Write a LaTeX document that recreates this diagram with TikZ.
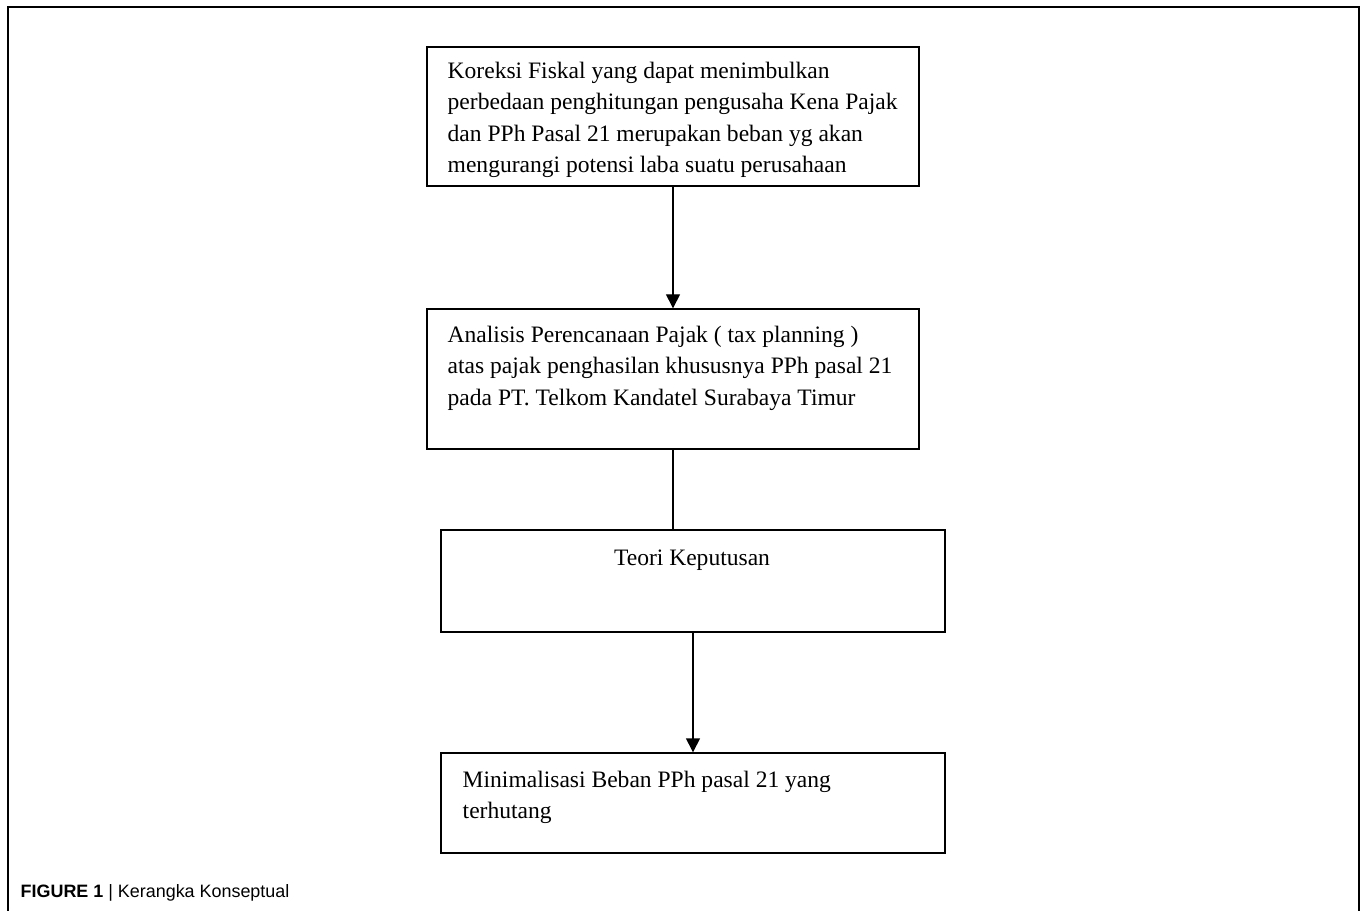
\documentclass[tikz,border=0pt]{standalone}
\usepackage{fontspec}
\setmainfont{Liberation Serif}
\newfontfamily\capfont{Liberation Sans}
\usetikzlibrary{arrows.meta}

\begin{document}
\begin{tikzpicture}[
box/.style={
draw,
line width=0.8pt,
minimum height=2.8cm,
inner sep=0pt
},
txt/.style={
align=left,
inner sep=0pt,
font=\fontsize{13.4}{17.9}\selectfont
},
every path/.style={line width=0.8pt}
]

\useasboundingbox (0,0) rectangle (27.3,-18.22);

% outer frame
\draw[line width=1.1pt] (0.16,-18.22) |- (27.18,-0.14) -- (27.18,-18.22);

\node[box, minimum width=9.84cm, minimum height=2.78cm] (K) at (13.46,-2.33) {};
\node[box, minimum width=9.84cm] (A) at (13.46,-7.58) {};
\node[box, minimum width=10.08cm, minimum height=2.04cm] (T) at (13.86,-11.62) {};
\node[box, minimum width=10.08cm, minimum height=2.0cm] (M) at (13.86,-16.06) {};

% texts sit on the baseline of their last line
\node[txt, anchor=base west] (Ktext) at (8.94,-3.45)
{Koreksi Fiskal yang dapat menimbulkan\\
perbedaan penghitungan pengusaha Kena Pajak\\
dan PPh Pasal 21 merupakan beban yg akan\\
mengurangi potensi laba suatu perusahaan};

\node[txt, anchor=base west] (Atext) at (8.94,-8.10)
{Analisis Perencanaan Pajak ( tax planning )\\
atas pajak penghasilan khususnya PPh pasal 21\\
pada PT. Telkom Kandatel Surabaya Timur};

\node[txt, anchor=base] (Ttext) at (13.84,-11.30)
{Teori Keputusan};

\node[txt, anchor=base west] (Mtext) at (9.24,-16.37)
{Minimalisasi Beban PPh pasal 21 yang\\
terhutang};

\node[anchor=base west, inner sep=0pt, font=\capfont\fontsize{10.2}{12}\selectfont] (cap) at (0.4,-17.94)
{\textbf{FIGURE 1} | Kerangka Konseptual};

\draw[-{Triangle[width=0.28cm,length=0.28cm]}] (K) -- (A);
\draw (A.south) -- (A.south |- T.north);
\draw[-{Triangle[width=0.28cm,length=0.28cm]}] (T) -- (M);

\end{tikzpicture}
\end{document}
